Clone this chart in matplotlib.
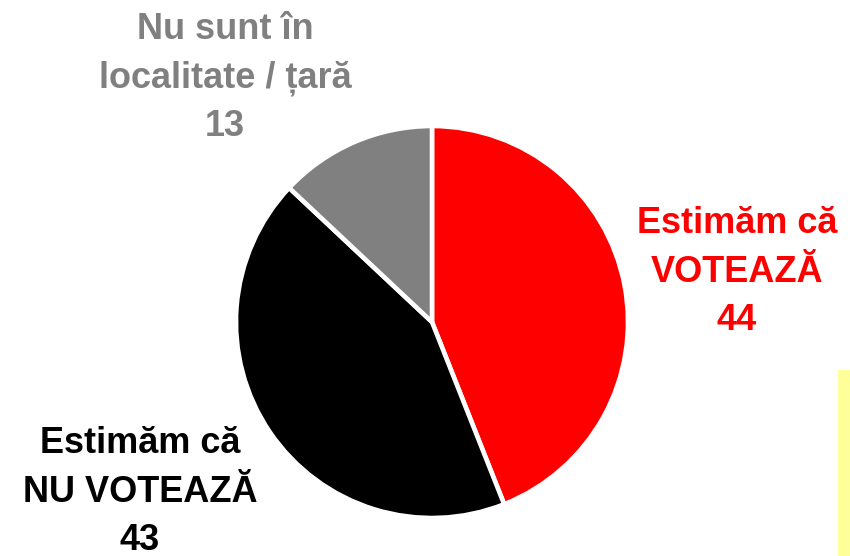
import matplotlib.pyplot as plt
from matplotlib.patches import Rectangle

# slices, clockwise from the top
labels = ["Estimăm că\nVOTEAZĂ", "Estimăm că\nNU VOTEAZĂ", "Nu sunt în\nlocalitate / țară"]
values = [44, 43, 13]
colors = ["#ff0000", "#000000", "#808080"]

W, H = 850, 556
fig = plt.figure(figsize=(W / 100, H / 100), dpi=100)
plt.rcParams['font.family'] = ['Liberation Sans', 'DejaVu Sans']

# pie centre and radius in pixels
cx, cy, r = 432, 322, 196
ax = fig.add_axes([(cx - r) / W, (H - cy - r) / H, 2 * r / W, 2 * r / H])
ax.pie(values, colors=colors, startangle=90, counterclock=False,
       wedgeprops=dict(edgecolor="white", linewidth=3.3))
ax.set_xlim(-1.0, 1.0)
ax.set_ylim(-1.0, 1.0)
ax.set_aspect('equal')
ax.axis('off')

# label centres in pixels
label_pos = [(737, 272), (140, 492), (225, 78)]
for lab, v, col, (px, py) in zip(labels, values, colors, label_pos):
    fig.text(px / W, 1 - py / H, lab + "\n" + str(v), color=col,
             fontsize=26, fontweight='bold', ha='center', va='center',
             linespacing=1.5)

# yellow strip at the right edge
fig.patches.append(Rectangle((838 / W, 0), 12 / W, (H - 370) / H,
                             transform=fig.transFigure, color="#ffff99", zorder=0))

fig.savefig("out.png", dpi=100)
